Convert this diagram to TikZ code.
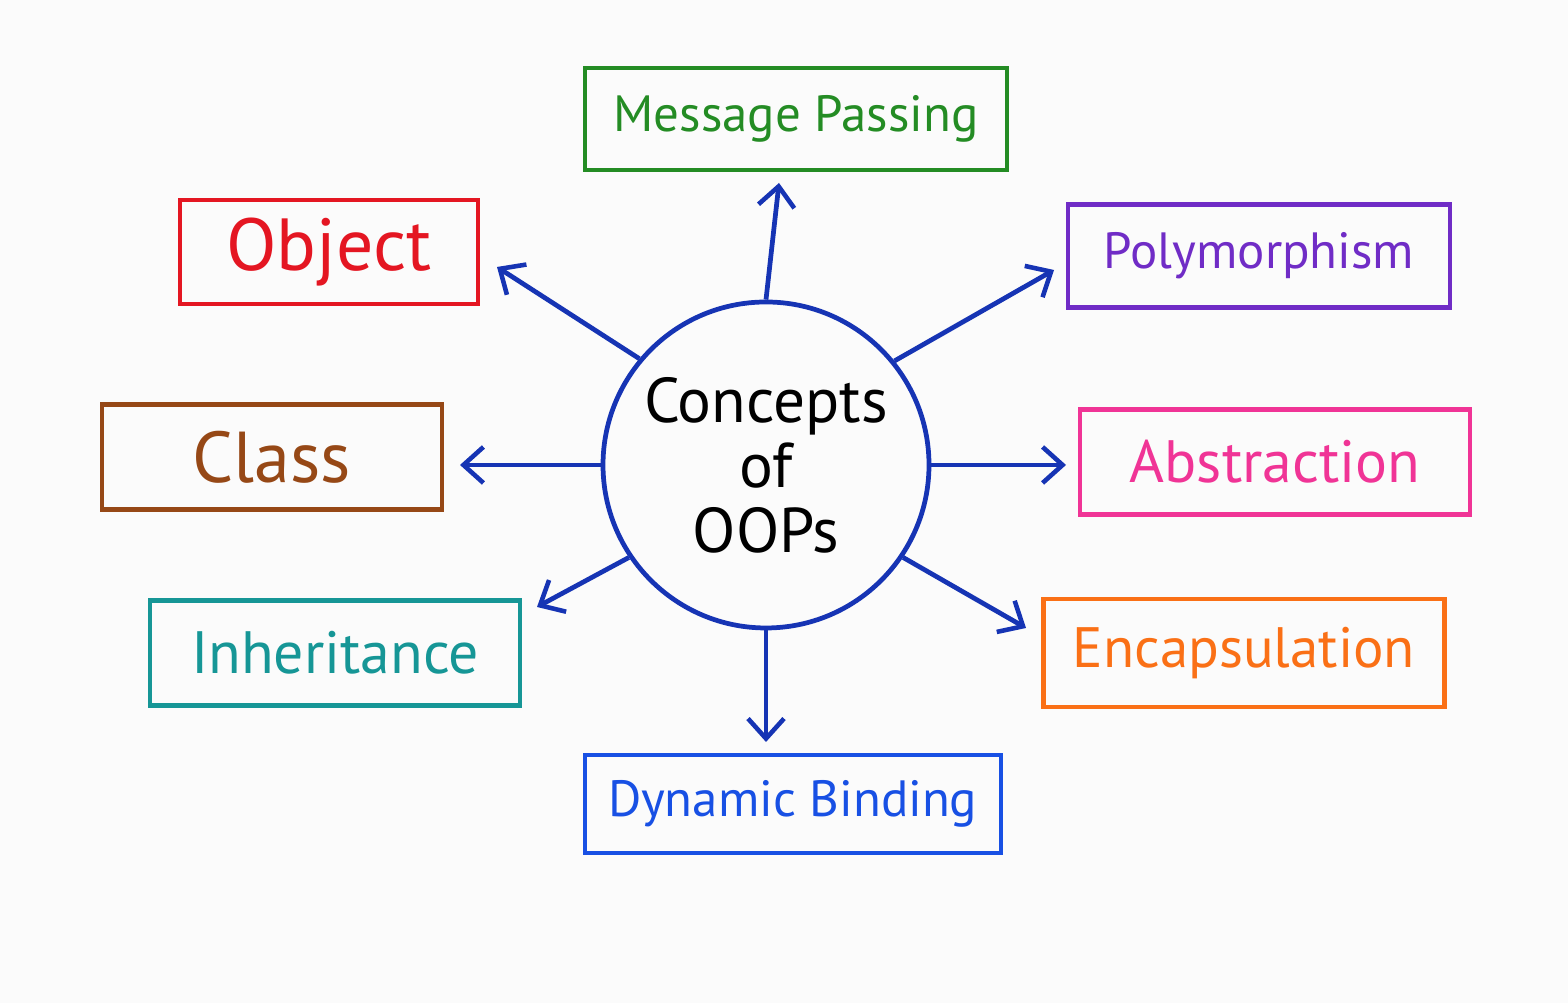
\documentclass[tikz,border=0pt]{standalone}
\usepackage{fontspec}
\setmainfont{PT Sans}
\usetikzlibrary{arrows.meta,positioning,calc}
\definecolor{hubblue}{RGB}{22,52,180}
\definecolor{msggreen}{RGB}{36,140,36}
\definecolor{objred}{RGB}{228,22,34}
\definecolor{polypurple}{RGB}{112,44,198}
\definecolor{clsbrown}{RGB}{150,72,22}
\definecolor{abspink}{RGB}{240,52,150}
\definecolor{inhteal}{RGB}{22,150,150}
\definecolor{encorange}{RGB}{250,112,22}
\definecolor{dynblue}{RGB}{24,80,228}
\definecolor{paper}{RGB}{251,251,251}
\begin{document}
\begin{tikzpicture}[
    box/.style={draw,line width=1.3pt,inner sep=0pt,align=center},
    arr/.style={-{Straight Barb[length=2mm,width=3.6mm,line width=1.3pt]},hubblue,line width=1.35pt}]
  % background and page size
  \fill[paper] (0,0) rectangle (15.68,10.03);
  \useasboundingbox (0,0) rectangle (15.68,10.03);

  % hub
  \node[circle,draw=hubblue,line width=1.35pt,minimum size=3.26cm,inner sep=0pt,align=center,
        font=\fontsize{18}{18.5}\selectfont] (hub) at (7.66,5.38) {Concepts\\of\\OOPs};

  % concept boxes
  \node[box,draw=msggreen,text=msggreen,minimum width=4.22cm,minimum height=1.02cm,
        font=\fontsize{14.5}{17}\selectfont] (msg) at (7.96,8.84) {Message Passing};
  \node[box,draw=objred,text=objred,minimum width=2.98cm,minimum height=1.04cm,
        font=\fontsize{21}{24}\selectfont] (obj) at (3.29,7.51) {Object};
  \node[box,draw=polypurple,text=polypurple,minimum width=3.82cm,minimum height=1.03cm,
        font=\fontsize{14.5}{17}\selectfont] (poly) at (12.59,7.47) {Polymorphism};
  \node[box,draw=clsbrown,text=clsbrown,minimum width=3.40cm,minimum height=1.05cm,
        font=\fontsize{20.5}{23}\selectfont] (cls) at (2.72,5.46) {Class};
  \node[box,draw=abspink,text=abspink,minimum width=3.90cm,minimum height=1.05cm,
        font=\fontsize{17}{20}\selectfont] (abs) at (12.75,5.41) {Abstraction};
  \node[box,draw=inhteal,text=inhteal,minimum width=3.70cm,minimum height=1.05cm,
        font=\fontsize{17}{20}\selectfont] (inh) at (3.35,3.50) {Inheritance};
  \node[box,draw=encorange,text=encorange,minimum width=4.01cm,minimum height=1.08cm,
        font=\fontsize{16.2}{19}\selectfont] (enc) at (12.44,3.50) {Encapsulation};
  \node[box,draw=dynblue,text=dynblue,minimum width=4.16cm,minimum height=0.98cm,
        font=\fontsize{14.5}{17}\selectfont] (dyn) at (7.93,1.99) {Dynamic Binding};

  % arrow tips, just short of each box
  \coordinate (msgtip) at (7.79,8.20);
  \coordinate (objtip) at (4.97,7.36);
  \coordinate (polytip) at (10.54,7.33);
  \coordinate (clstip) at (4.60,5.38);
  \coordinate (abstip) at (10.66,5.38);
  \coordinate (inhtip) at (5.37,3.96);
  \coordinate (enctip) at (10.26,3.75);
  \coordinate (dyntip) at (7.66,2.61);

  % spokes
  \draw[arr] (hub.90) -- (msgtip);
  \draw[arr] (hub.140.6) -- (objtip);
  \draw[arr] (hub.39.3) -- (polytip);
  \draw[arr] (hub.180) -- (clstip);
  \draw[arr] (hub.0) -- (abstip);
  \draw[arr] (hub.214.8) -- (inhtip);
  \draw[arr] (hub.-34) -- (enctip);
  \draw[arr] (hub.270) -- (dyntip);
\end{tikzpicture}
\end{document}
